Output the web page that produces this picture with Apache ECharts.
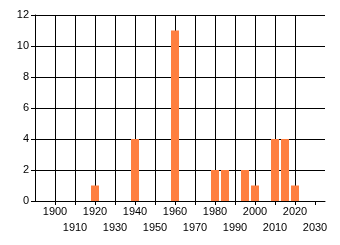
<!DOCTYPE html>
<html><head><meta charset="utf-8">
<script src="https://cdn.jsdelivr.net/npm/echarts@6/dist/echarts.min.js"></script>
<style>html,body{margin:0;padding:0;background:#fff}#c{width:340px;height:245px}</style>
</head><body><div id="c"></div>
<script>
const years = [1920, 1940, 1960, 1980, 1985, 1995, 2000, 2010, 2015, 2020];
const counts = [1, 4, 11, 2, 2, 2, 1, 4, 4, 1];
const xTicks = [1900,1910,1920,1930,1940,1950,1960,1970,1980,1990,2000,2010,2020,2030];
const xLabelsRow1 = [1900,1920,1940,1960,1980,2000,2020];
const xLabelsRow2 = [1910,1930,1950,1970,1990,2010,2030];
const yLabels = [0,2,4,6,8,10,12];

const chart = echarts.init(document.getElementById('c'), null, {renderer:'canvas'});
const font = {fontFamily:'Liberation Sans', fontSize:11, color:'#000', formatter:function(v){return String(v);}};
const baseX = {type:'value', min:1890, max:2035, interval:10, position:'bottom'};
chart.setOption({
  animation:false,
  grid:{left:35, top:15, width:290, height:186, containLabel:false},
  xAxis:[
    Object.assign({}, baseX, {
      axisLine:{show:true, lineStyle:{color:'#000', width:1}},
      axisTick:{show:true, length:4, customValues:xTicks, lineStyle:{color:'#000'}},
      splitLine:{show:true, showMaxLine:false, lineStyle:{color:'#000', width:1}},
      axisLabel:Object.assign({}, font, {customValues:xLabelsRow1, margin:5,
        showMinLabel:true, showMaxLabel:true})
    }),
    Object.assign({}, baseX, {
      axisLine:{show:false}, axisTick:{show:false}, splitLine:{show:false},
      axisLabel:Object.assign({}, font, {customValues:xLabelsRow2, margin:21,
        showMinLabel:true, showMaxLabel:true})
    })
  ],
  yAxis:{
    type:'value', min:0, max:12, interval:2,
    axisLine:{show:true, lineStyle:{color:'#000', width:1}},
    axisTick:{show:true, length:4, lineStyle:{color:'#000'}},
    splitLine:{show:true, lineStyle:{color:'#000', width:1}},
    axisLabel:Object.assign({}, font, {margin:6, customValues:yLabels})
  },
  series:[{
    type:'bar', barWidth:8, xAxisIndex:0,
    itemStyle:{color:'#ff7f40'},
    data: years.map((y,i)=>[y, counts[i]])
  }]
});
</script></body></html>
